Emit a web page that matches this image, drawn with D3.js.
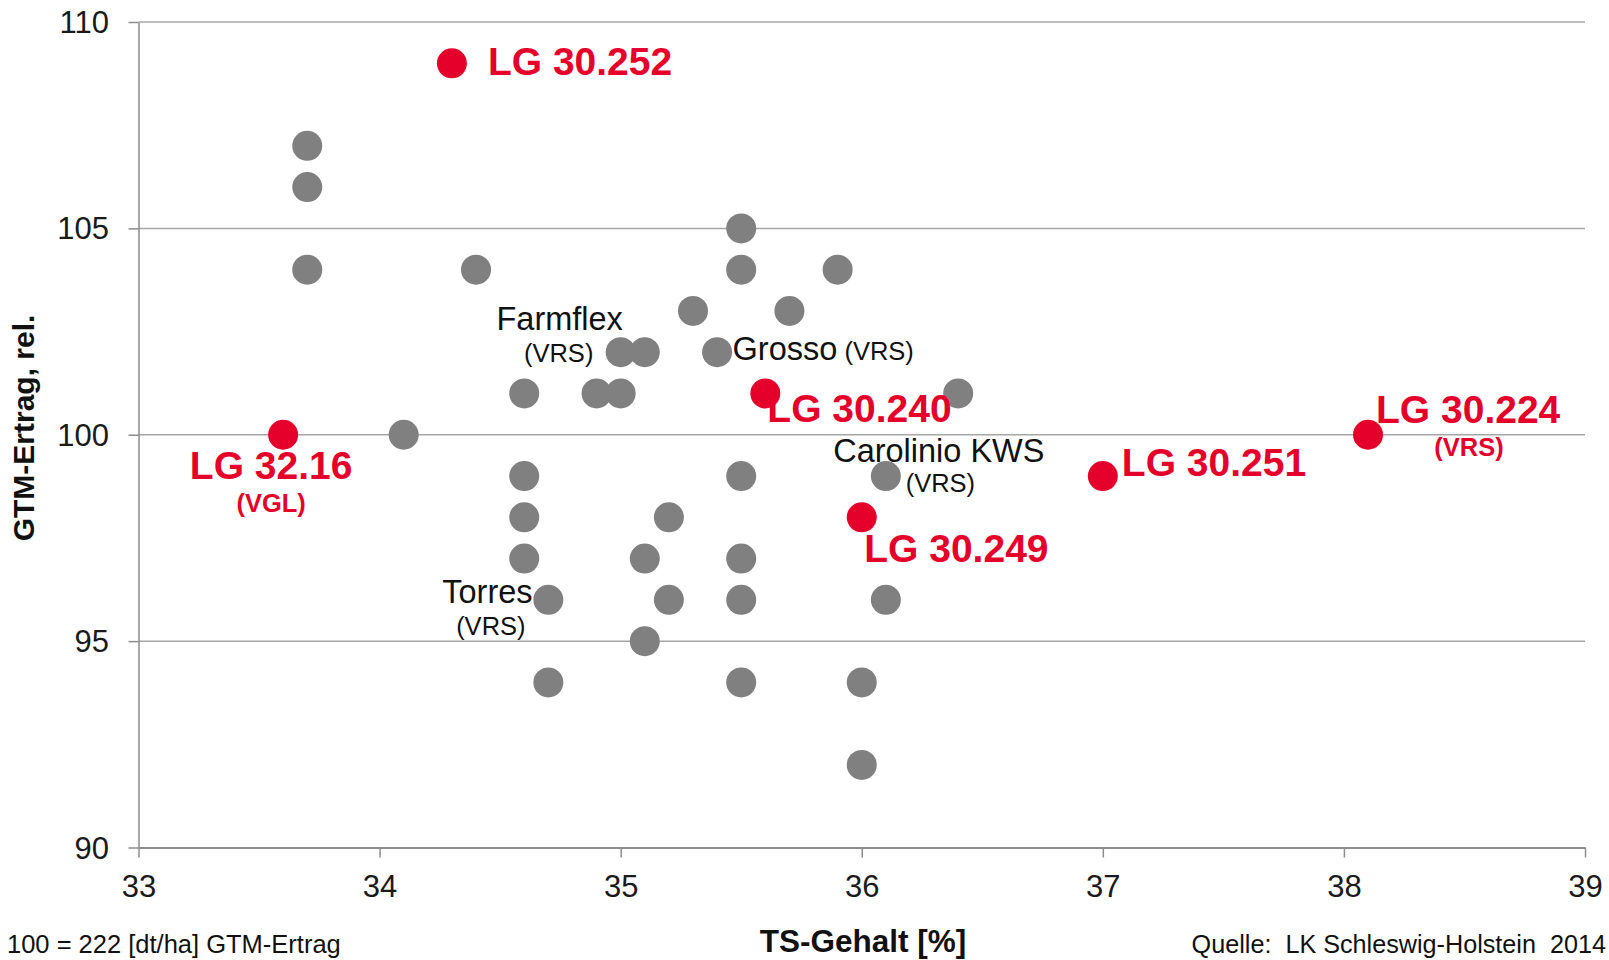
<!DOCTYPE html>
<html>
<head>
<meta charset="utf-8">
<script src="https://cdn.jsdelivr.net/npm/d3@7"></script>
<style>
  html, body { margin: 0; padding: 0; background: #fff; }
  svg text { font-family: "Liberation Sans", Arial, sans-serif; white-space: pre; }
</style>
</head>
<body>
<svg id="chart" width="1609" height="960"></svg>
<script>
// ---------- data ----------
const xTicks = [33, 34, 35, 36, 37, 38, 39];
const yTicks = [90, 95, 100, 105, 110];

// other varieties (grey)
const greyTS    = [33.7, 33.7, 33.7, 34.4, 34.1, 35.5, 35.5, 35.9, 35.3, 35.7, 35.0, 35.1, 35.4, 34.6, 34.9, 35.0, 36.4, 34.6, 35.5, 36.1, 34.6, 35.2, 34.6, 35.1, 35.5, 34.7, 35.2, 35.5, 36.1, 35.1, 34.7, 35.5, 36.0, 36.0];
const greyYield = [107, 106, 104, 104, 100, 105, 104, 104, 103, 103, 102, 102, 102, 101, 101, 101, 101, 99, 99, 99, 98, 98, 97, 97, 97, 96, 96, 96, 96, 95, 94, 94, 94, 92];

// LG varieties (red)
const lgNames = ["LG 30.252", "LG 32.16", "LG 30.240", "LG 30.249", "LG 30.251", "LG 30.224"];
const lgTS    = [34.3, 33.6, 35.6, 36.0, 37.0, 38.1];
const lgYield = [109, 100, 101, 98, 99, 100];
const lgNotes = ["", "(VGL)", "", "", "", "(VRS)"];

// labelled reference varieties (grey points)
const refNames = ["Farmflex", "Grosso", "Carolinio KWS", "Torres"];
const refTS    = [35.0, 35.4, 36.1, 34.7];
const refYield = [102, 102, 99, 96];
const refNotes = ["(VRS)", "(VRS)", "(VRS)", "(VRS)"];

const xTitle = "TS-Gehalt [%]";
const yTitle = "GTM-Ertrag, rel.";
const footLeft = "100 = 222 [dt/ha] GTM-Ertrag";
const footRight = "Quelle:  LK Schleswig-Holstein  2014";

// ---------- layout (label offsets, px relative to point) ----------
const lgLayout = [
  {dx: 36, dy: 12, anchor: "start"},
  {dx: -12, dy: 44, anchor: "middle", ndx: -12, ndy: 77},
  {dx: 2, dy: 29, anchor: "start"},
  {dx: 2.5, dy: 44.5, anchor: "start"},
  {dx: 19, dy: 0, anchor: "start"},
  {dx: 8, dy: -12, anchor: "start", ndx: 101, ndy: 21}
];
const refLayout = [
  {dx: -61, dy: -22, anchor: "middle", ndx: -62, ndy: 9.5, inline: false},
  {dx: 15.5, dy: 8, anchor: "start", inline: true},
  {dx: -52.7, dy: -14.3, anchor: "start", ndx: 54.5, ndy: 15.7, inline: false},
  {dx: -15.8, dy: 2.8, anchor: "end", ndx: -57.5, ndy: 35, inline: false}
];

const RED = "#e4002b";
const GREY = "#808080";

const svg = d3.select("#chart");
const x = d3.scaleLinear().domain([33, 39]).range([138.5, 1585]);
const y = d3.scaleLinear().domain([90, 110]).range([847.5, 22]);

// gridlines
svg.append("g").selectAll("line")
  .data(yTicks.filter(v => v !== 90))
  .join("line")
  .attr("x1", x(33)).attr("x2", x(39))
  .attr("y1", d => y(d)).attr("y2", d => y(d))
  .attr("stroke", "#a6a6a6").attr("stroke-width", 1.5);

// y axis
const yAxis = svg.append("g")
  .attr("transform", `translate(${x(33)},0)`)
  .call(d3.axisLeft(y).tickValues(yTicks).tickFormat(d3.format("d")).tickSize(10).tickSizeOuter(0).tickPadding(19.5));
yAxis.select(".domain").attr("stroke", "#8c8c8c").attr("stroke-width", 1.5);
yAxis.selectAll(".tick line").attr("stroke", "#8c8c8c").attr("stroke-width", 1.5);
yAxis.selectAll(".tick text")
  .attr("font-size", 31).attr("fill", "#1a1a1a")
  .attr("font-family", "Liberation Sans, Arial, sans-serif")
  .attr("dy", "0.34em");

// x axis
const xAxis = svg.append("g")
  .attr("transform", `translate(0,${y(90)})`)
  .call(d3.axisBottom(x).tickValues(xTicks).tickFormat(d3.format("d")).tickSize(10).tickSizeOuter(0).tickPadding(17));
xAxis.select(".domain").attr("stroke", "#8c8c8c").attr("stroke-width", 2.2);
xAxis.selectAll(".tick line").attr("stroke", "#8c8c8c").attr("stroke-width", 1.5);
xAxis.selectAll(".tick text")
  .attr("font-size", 31).attr("fill", "#1a1a1a")
  .attr("font-family", "Liberation Sans, Arial, sans-serif");

// grey points
svg.append("g").selectAll("circle")
  .data(greyTS.map((v, i) => [v, greyYield[i]]))
  .join("circle")
  .attr("cx", d => x(d[0])).attr("cy", d => y(d[1]))
  .attr("r", 15).attr("fill", GREY);

// red points
svg.append("g").selectAll("circle")
  .data(lgTS.map((v, i) => [v, lgYield[i]]))
  .join("circle")
  .attr("cx", d => x(d[0])).attr("cy", d => y(d[1]))
  .attr("r", 15).attr("fill", RED);

// reference labels
refNames.forEach((name, i) => {
  const L = refLayout[i];
  const px = x(refTS[i]), py = y(refYield[i]);
  const t = svg.append("text")
    .attr("x", px + L.dx).attr("y", py + L.dy)
    .attr("text-anchor", L.anchor)
    .attr("font-size", 32.5).attr("fill", "#111");
  t.append("tspan").text(name);
  if (L.inline) {
    t.append("tspan").attr("font-size", 25.5).text(" " + refNotes[i]);
  } else {
    svg.append("text")
      .attr("x", px + L.ndx).attr("y", py + L.ndy)
      .attr("text-anchor", "middle")
      .attr("font-size", 25.5).attr("fill", "#111")
      .text(refNotes[i]);
  }
});

// LG labels
lgNames.forEach((name, i) => {
  const L = lgLayout[i];
  const px = x(lgTS[i]), py = y(lgYield[i]);
  svg.append("text")
    .attr("x", px + L.dx).attr("y", py + L.dy)
    .attr("text-anchor", L.anchor)
    .attr("font-size", 39).attr("font-weight", "bold").attr("fill", RED)
    .text(name);
  if (lgNotes[i]) {
    svg.append("text")
      .attr("x", px + L.ndx).attr("y", py + L.ndy)
      .attr("text-anchor", "middle")
      .attr("font-size", 25.5).attr("font-weight", "bold").attr("fill", RED)
      .text(lgNotes[i]);
  }
});

// axis titles
svg.append("text")
  .attr("transform", "translate(34,428) rotate(-90)")
  .attr("text-anchor", "middle")
  .attr("font-size", 30).attr("font-weight", "bold").attr("fill", "#111")
  .text(yTitle);

svg.append("text")
  .attr("x", 863).attr("y", 952)
  .attr("text-anchor", "middle")
  .attr("font-size", 31.5).attr("font-weight", "bold").attr("fill", "#111")
  .text(xTitle);

// footer notes
svg.append("text")
  .attr("x", 7).attr("y", 953)
  .attr("font-size", 25.5).attr("fill", "#111")
  .text(footLeft);

svg.append("text")
  .attr("x", 1606).attr("y", 953)
  .attr("text-anchor", "end")
  .attr("font-size", 25.2).attr("fill", "#111")
  .text(footRight);
</script>
</body>
</html>
